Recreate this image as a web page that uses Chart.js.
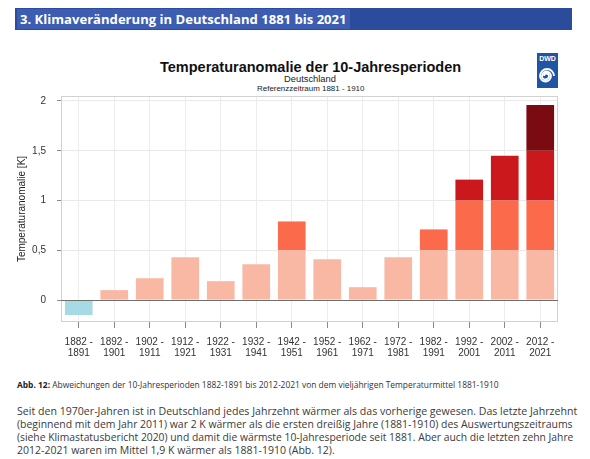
<!DOCTYPE html>
<html lang="de">
<head>
<meta charset="UTF-8">
<title>Temperaturanomalie der 10-Jahresperioden</title>
<script src="https://cdn.jsdelivr.net/npm/chart.js@4.4.0/dist/chart.umd.min.js"></script>
<style>
    html, body {
        margin: 0;
        padding: 0;
        width: 590px;
        height: 459px;
        background: #fff;
        overflow: hidden;
    }
    .t {
        position: absolute;
        white-space: nowrap;
        line-height: 1;
    }
    #bar {
        position: absolute;
        left: 15px; top: 8px; width: 557px; height: 22px;
        background: #2b4b9d;
    }
    #barHi {
        position: absolute;
        left: 17px; top: 9px; width: 333px; height: 20px;
        background: #3d5db2;
    }
    .hdr { color: #fff; font-family: 'Open Sans'; font-weight: bold; font-size: 13px; }
    .ttl { color: #111; font-family: 'Liberation Sans'; font-weight: bold; font-size: 16px; }
    .sub { color: #222; font-family: 'Liberation Sans'; font-size: 9px; }
    .cap { color: #333; font-family: 'Open Sans'; font-size: 8px; }
    .cap b { color: #222; }
    .par { color: #3a3a3a; font-family: 'Open Sans'; font-size: 11px; }
    #logo { position: absolute; left: 537px; top: 53px; }
    .chart-box {
        position: absolute;
        left: 0; top: 90px;
        width: 590px; height: 280px;
    }
</style>
</head>
<body>
    <div id="bar"></div>
    <div id="barHi"></div>
    <div class="t hdr" data-x="20" data-y="19" data-w="327">3. Klimaveränderung in Deutschland 1881 bis 2021</div>

    <div class="t ttl" data-x="160" data-y="67.5" data-w="301">Temperaturanomalie der 10-Jahresperioden</div>
    <div class="t sub" data-x="284" data-y="79.5" data-w="52">Deutschland</div>
    <div class="t sub" data-x="257" data-y="88.5" data-w="107">Referenzzeitraum 1881 - 1910</div>

    <svg id="logo" width="21" height="35" viewBox="0 0 21 35">
        <rect x="0" y="0" width="21" height="35" fill="#1f55a3"/>
        <text x="10.5" y="8" fill="#fff" font-family="Liberation Sans" font-weight="bold" font-size="7" text-anchor="middle">DWD</text>
        <path d="M17,23 A7,7 0 0,0 3,23 A5.5,5.5 0 0,0 14,23 A4.5,4.5 0 0,0 5,23 A3.5,3.5 0 0,0 12,23 A2.5,2.5 0 0,0 7,23"
              fill="none" stroke="#fff" stroke-width="1.8"/>
    </svg>

    <div class="chart-box">
        <canvas id="myChart"></canvas>
    </div>

    <div class="t cap" data-x="17" data-y="385" data-w="482"><b>Abb. 12:</b> Abweichungen der 10-Jahresperioden 1882-1891 bis 2012-2021 von dem vieljährigen Temperaturmittel 1881-1910</div>

    <div class="t par" data-x="17" data-y="411" data-w="560">Seit den 1970er-Jahren ist in Deutschland jedes Jahrzehnt wärmer als das vorherige gewesen. Das letzte Jahrzehnt</div>
    <div class="t par" data-x="17" data-y="424" data-w="556">(beginnend mit dem Jahr 2011) war 2 K wärmer als die ersten dreißig Jahre (1881-1910) des Auswertungszeitraums</div>
    <div class="t par" data-x="17" data-y="437" data-w="556">(siehe Klimastatusbericht 2020) und damit die wärmste 10-Jahresperiode seit 1881. Aber auch die letzten zehn Jahre</div>
    <div class="t par" data-x="17" data-y="450" data-w="318">2012-2021 waren im Mittel 1,9 K wärmer als 1881-1910 (Abb. 12).</div>

    <script>
        // data
        const periods = ['1882 - 1891', '1892 - 1901', '1902 - 1911', '1912 - 1921', '1922 - 1931',
            '1932 - 1941', '1942 - 1951', '1952 - 1961', '1962 - 1971', '1972 - 1981',
            '1982 - 1991', '1992 - 2001', '2002 - 2011', '2012 - 2021'];
        const anomalies = [-0.15, 0.10, 0.22, 0.43, 0.19, 0.36, 0.79, 0.41, 0.13, 0.43, 0.71, 1.21, 1.45, 1.96];
        const bandEdges = [0, 0.5, 1, 1.5, 2];
        const bandColors = ['#f9b8a4', '#fb6a4a', '#cb181d', '#7b0b12'];
        const negColor = '#a6dbe5';
        const yTicks = [0, 0.5, 1, 1.5, 2];

        // size text blocks to the widths measured on the picture
        function fitText() {
            document.querySelectorAll('[data-w]').forEach(function (el) {
                const fs = parseFloat(getComputedStyle(el).fontSize);
                el.style.fontSize = (fs * (+el.dataset.w) / el.offsetWidth) + 'px';
                el.style.left = el.dataset.x + 'px';
                el.style.top = (+el.dataset.y - el.offsetHeight / 2) + 'px';
            });
        }
        fitText();
        if (document.fonts) document.fonts.ready.then(fitText);

        const labels = periods.map(function (p) {
            const parts = p.split(' - ');
            return [parts[0] + ' -', parts[1]];
        });

        const datasets = [{
            data: anomalies.map(v => v < 0 ? v : null),
            backgroundColor: negColor
        }];
        for (let i = 0; i < bandColors.length; i++) {
            const lo = bandEdges[i], hi = bandEdges[i + 1];
            datasets.push({
                data: anomalies.map(v => v > lo ? Math.min(v, hi) - lo : null),
                backgroundColor: bandColors[i]
            });
        }
        datasets.forEach(d => {
            d.borderWidth = 0;
            d.barPercentage = 0.78;
            d.categoryPercentage = 1;
        });

        // frame round the panel and the zero line on top of the bars
        const framePlugin = {
            id: 'frame',
            afterDatasetsDraw(chart) {
                const ctx = chart.ctx, a = chart.chartArea;
                const y0 = Math.round(chart.scales.y.getPixelForValue(0)) + 0.5;
                ctx.save();
                ctx.strokeStyle = '#d2d2d2';
                ctx.lineWidth = 1;
                ctx.strokeRect(a.left + 0.5, a.top + 0.5, a.right - a.left - 1, a.bottom - a.top - 1);
                ctx.strokeStyle = '#6f6f6f';
                ctx.beginPath();
                ctx.moveTo(a.left, y0);
                ctx.lineTo(a.right, y0);
                ctx.stroke();
                ctx.restore();
            }
        };

        const font = { family: 'Liberation Sans', size: 10 };

        new Chart(document.getElementById('myChart'), {
            type: 'bar',
            data: { labels: labels, datasets: datasets },
            plugins: [framePlugin],
            options: {
                responsive: true,
                maintainAspectRatio: false,
                animation: false,
                layout: { padding: { top: 6, right: 32, left: 0, bottom: 0 } },
                plugins: {
                    legend: { display: false },
                    tooltip: { enabled: false }
                },
                scales: {
                    x: {
                        stacked: true,
                        border: { display: false },
                        grid: { offset: false, color: '#ededed', tickColor: '#8a8a8a', tickLength: 6 },
                        ticks: {
                            color: '#333',
                            font: { family: font.family, size: 10, lineHeight: 1.17 },
                            padding: 8,
                            maxRotation: 0,
                            autoSkip: false
                        },
                        afterFit: s => { s.height = 48; s.paddingLeft = 0; s.paddingRight = 0; }
                    },
                    y: {
                        stacked: true,
                        min: -0.22,
                        max: 2.05,
                        border: { display: false },
                        afterBuildTicks: s => { s.ticks = yTicks.map(v => ({ value: v })); },
                        grid: { color: '#e9e9e9', tickColor: '#8a8a8a', tickLength: 4 },
                        ticks: {
                            color: '#333',
                            font: font,
                            padding: 11,
                            callback: v => String(v).replace('.', ',')
                        },
                        title: {
                            display: true,
                            text: 'Temperaturanomalie [K]',
                            color: '#222',
                            font: font,
                            padding: { top: 16, bottom: 0 }
                        },
                        afterFit: s => { s.width = 61; s.paddingTop = 0; s.paddingBottom = 0; }
                    }
                }
            }
        });
    </script>
</body>
</html>
